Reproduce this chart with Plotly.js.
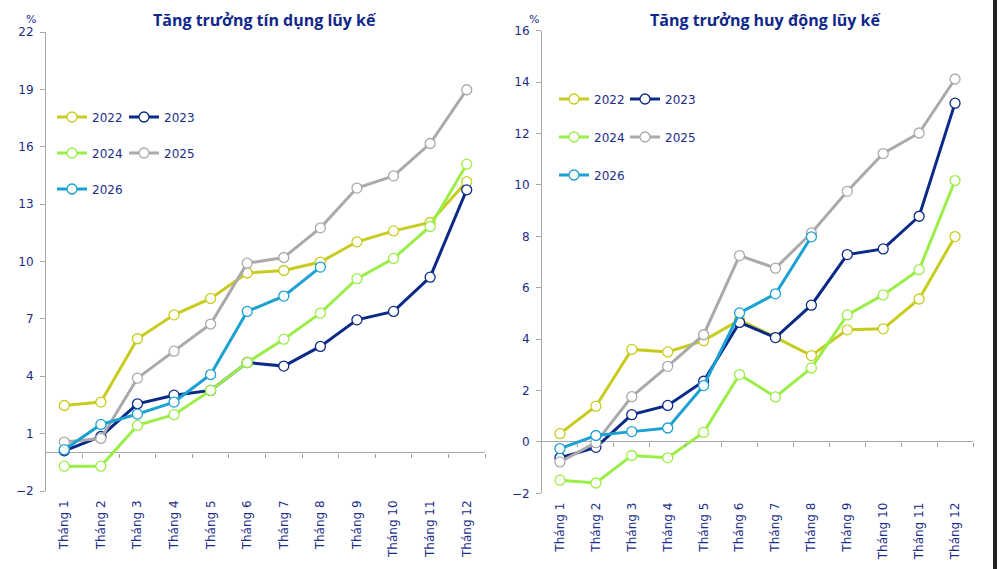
<!DOCTYPE html>
<html>
<head>
<meta charset="utf-8">
<script src="https://cdn.plot.ly/plotly-3.0.1.min.js"></script>
<style>html,body{margin:0;padding:0;background:#fff;}#chart{width:1000px;height:569px;}</style>
</head>
<body>
<div id="chart"></div>
<script>
// ---- data ----
const months = ["Tháng 1","Tháng 2","Tháng 3","Tháng 4","Tháng 5","Tháng 6","Tháng 7","Tháng 8","Tháng 9","Tháng 10","Tháng 11","Tháng 12"];
const years = ["2022","2023","2024","2025","2026"];

// Tăng trưởng tín dụng lũy kế (%)
const credit2022 = [2.47, 2.65, 5.96, 7.21, 8.07, 9.4, 9.53, 9.97, 11.03, 11.6, 12.04, 14.18];
const credit2023 = [0.1, 0.85, 2.56, 3.01, 3.26, 4.72, 4.53, 5.56, 6.95, 7.39, 9.18, 13.75];
const credit2024 = [-0.7, -0.7, 1.43, 1.99, 3.26, 4.72, 5.94, 7.3, 9.1, 10.16, 11.83, 15.09];
const credit2025 = [0.56, 0.75, 3.9, 5.31, 6.73, 9.91, 10.21, 11.76, 13.84, 14.48, 16.17, 18.98];
const credit2026 = [0.16, 1.48, 2.02, 2.65, 4.09, 7.39, 8.19, 9.71];

// Tăng trưởng huy động lũy kế (%)
const deposit2022 = [0.32, 1.39, 3.6, 3.5, 3.94, 4.75, 4.07, 3.36, 4.36, 4.4, 5.56, 7.99];
const deposit2023 = [-0.62, -0.21, 1.06, 1.42, 2.36, 4.65, 4.06, 5.32, 7.29, 7.51, 8.78, 13.18];
const deposit2024 = [-1.49, -1.6, -0.53, -0.62, 0.37, 2.62, 1.75, 2.88, 4.94, 5.72, 6.7, 10.17];
const deposit2025 = [-0.78, -0.03, 1.76, 2.94, 4.17, 7.25, 6.76, 8.13, 9.75, 11.22, 12.02, 14.12];
const deposit2026 = [-0.26, 0.25, 0.4, 0.54, 2.19, 5.02, 5.76, 7.98];

const creditTicks = [-2, 1, 4, 7, 10, 13, 16, 19, 22];
const depositTicks = [-2, 0, 2, 4, 6, 8, 10, 12, 14, 16];

// ---- styles ----
const colors = {"2022":"#c8cc1e","2023":"#0b2a88","2024":"#9bee48","2025":"#aaaaaa","2026":"#1ba2d2"};
const navy = "#1a2d88";
const FONT = "'DejaVu Sans', sans-serif";

const creditSeries = [credit2022, credit2023, credit2024, credit2025, credit2026];
const depositSeries = [deposit2022, deposit2023, deposit2024, deposit2025, deposit2026];

// legend grid: column (0/1) and row (0..2) of each year
const legCol = [0, 1, 0, 1, 0];
const legRow = [0, 0, 1, 1, 2];
const legColX = [[0.052, 0.124], [0.554, 0.625]];
const legRowY = [[117, 153, 189], [99, 137, 175]];

function legName(panel, i) { const n = panel * 5 + i + 1; return n === 1 ? "legend" : "legend" + n; }

function mk(vals, yr, i, panel) {
  const c = colors[yr];
  return {
    type: "scatter", mode: "lines+markers",
    x: months.slice(0, vals.length), y: vals, name: yr,
    xaxis: panel === 0 ? "x" : "x2", yaxis: panel === 0 ? "y" : "y2",
    legend: legName(panel, i),
    line: {color: c, width: 3},
    marker: {symbol: "circle", size: 10, color: "#ffffff", line: {color: c, width: 1.3}},
    hoverinfo: "x+y+name"
  };
}
const traces = [];
years.forEach((yr, i) => traces.push(mk(creditSeries[i], yr, i, 0)));
years.forEach((yr, i) => traces.push(mk(depositSeries[i], yr, i, 1)));
// empty helper traces so the zero-line tick axes are drawn
traces.push({type: "scatter", x: [], y: [], xaxis: "x3", yaxis: "y", showlegend: false, hoverinfo: "skip"});
traces.push({type: "scatter", x: [], y: [], xaxis: "x4", yaxis: "y2", showlegend: false, hoverinfo: "skip"});

const dom1x = [0.046, 0.485], dom1y = [1 - 491/569, 1 - 32/569];
const dom2x = [0.542, 0.973], dom2y = [1 - 493.3/569, 1 - 30.7/569];
const r1 = [-2, 22], r2 = [-2, 16];
function zeroPos(dom, r) { return dom[0] + (0 - r[0]) / (r[1] - r[0]) * (dom[1] - dom[0]); }

const tickFont = {family: FONT, size: 12, color: navy};
function xaxisMain(dom, anchor) {
  return {domain: dom, anchor: anchor, type: "category", categoryarray: months, categoryorder: "array",
    range: [-0.5, 11.5], tickangle: -90, tickfont: tickFont, showline: false, showgrid: false,
    zeroline: false, ticks: "", ticklen: 0, ticklabelstandoff: 6, fixedrange: true};
}
function xaxisTicks(dom, ov, pos) {
  return {domain: dom, overlaying: ov, anchor: "free", position: pos, type: "linear", range: [0, 12],
    tickmode: "array", tickvals: [1,2,3,4,5,6,7,8,9,10,11,12], ticks: "outside", ticklen: 4, tickcolor: "#a0a0a0",
    tickwidth: 1, showticklabels: false, showline: false, showgrid: false, zeroline: false, fixedrange: true};
}
function yaxisMain(dom, anchor, r, tv) {
  return {domain: dom, anchor: anchor, range: r, tickmode: "array", tickvals: tv, tickfont: tickFont,
    showline: true, linecolor: "#a8a8a8", linewidth: 1, ticks: "outside", ticklen: 5, tickcolor: "#a8a8a8",
    ticklabelstandoff: 4,
    showgrid: false, zeroline: true, zerolinecolor: "#a8a8a8", zerolinewidth: 1, fixedrange: true};
}
function leg(x, yPix) {
  return {orientation: "h", x: x, xanchor: "left", y: 1 - yPix/569, yanchor: "middle",
    font: {family: FONT, size: 12, color: navy}, bgcolor: "rgba(0,0,0,0)", borderwidth: 0,
    itemwidth: 30, tracegroupgap: 0};
}
const titleFont = {family: "'Open Sans', sans-serif", size: 16, color: "#10288a", weight: "bold"};

const layout = {
  width: 1000, height: 569,
  margin: {l: 0, r: 0, t: 0, b: 0},
  paper_bgcolor: "#ffffff", plot_bgcolor: "#ffffff",
  showlegend: true,
  xaxis: xaxisMain(dom1x, "y"),
  yaxis: yaxisMain(dom1y, "x", r1, creditTicks),
  xaxis2: xaxisMain(dom2x, "y2"),
  yaxis2: yaxisMain(dom2y, "x2", r2, depositTicks),
  xaxis3: xaxisTicks(dom1x, "x", zeroPos(dom1y, r1)),
  xaxis4: xaxisTicks(dom2x, "x2", zeroPos(dom2y, r2)),
  annotations: [
    {text: "<b>Tăng trưởng tín dụng lũy kế</b>", xref: "paper", yref: "paper", x: 0.265, y: 1 - 20/569,
      xanchor: "center", yanchor: "middle", showarrow: false, font: titleFont},
    {text: "<b>Tăng trưởng huy động lũy kế</b>", xref: "paper", yref: "paper", x: 0.765, y: 1 - 20/569,
      xanchor: "center", yanchor: "middle", showarrow: false, font: titleFont},
    {text: "%", xref: "paper", yref: "paper", x: 0.031, y: 1 - 20/569, xanchor: "center", yanchor: "middle",
      showarrow: false, font: {family: FONT, size: 11, color: navy}},
    {text: "%", xref: "paper", yref: "paper", x: 0.534, y: 1 - 20/569, xanchor: "center", yanchor: "middle",
      showarrow: false, font: {family: FONT, size: 11, color: navy}}
  ],
  shapes: [
    {type: "rect", xref: "paper", yref: "paper", x0: 0.993, x1: 0.997, y0: 0, y1: 1,
      fillcolor: "#222222", line: {width: 0}}
  ]
};
for (let p = 0; p < 2; p++) {
  for (let i = 0; i < 5; i++) {
    layout[legName(p, i)] = leg(legColX[p][legCol[i]], legRowY[p][legRow[i]]);
  }
}

Plotly.newPlot("chart", traces, layout, {displayModeBar: false, staticPlot: true});
</script>
</body>
</html>
